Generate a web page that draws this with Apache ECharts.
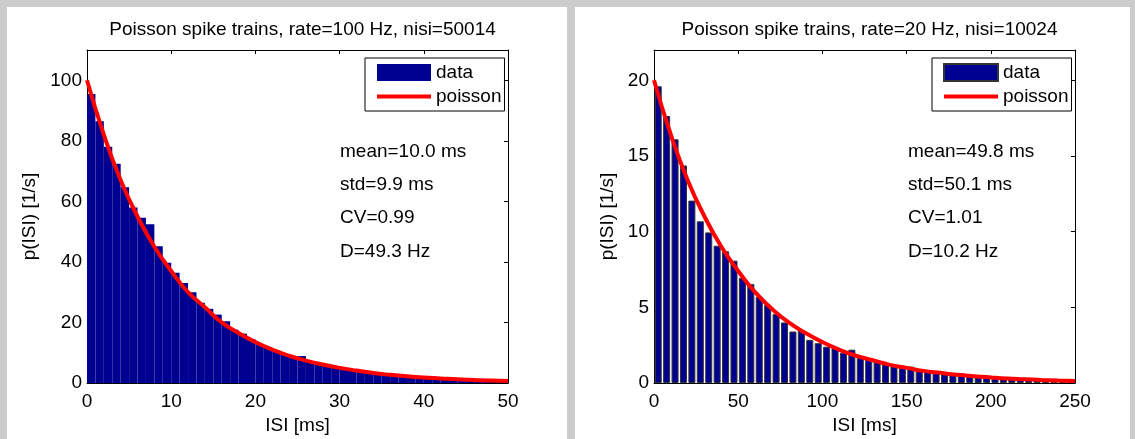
<!DOCTYPE html>
<html>
<head>
<meta charset="utf-8">
<style>
    body { margin: 0; background: #cccccc; width: 1135px; height: 439px; overflow: hidden; position: relative; }
    .panel { position: absolute; top: 7px; height: 460px; background: #fff; }
    #left { left: 7px; width: 560px; }
    #right { left: 575px; width: 555px; }
</style>
</head>
<body>
<div id="left" class="panel"></div>
<div id="right" class="panel"></div>
<script src="https://cdn.jsdelivr.net/npm/echarts@6/dist/echarts.min.js"></script>
<script>
    // ---- left panel: rate 100 Hz, 1 ms bins ----
    var leftBinWidth = 1;
    var leftCounts = [95.5, 86.5, 78, 72.4, 64.7, 58, 54.6, 52.4, 45.2, 39.7,
        36.4, 33, 30, 26.5, 24.5, 22.6, 20.4, 17.6, 16.3, 14.5,
        12.8, 11.8, 10.6, 9.6, 8.6, 8.9, 7.1, 6.4, 5.8, 5.3,
        4.7, 4.3, 3.9, 3.5, 3.2, 2.9, 2.6, 2.4, 2.1, 1.9,
        1.7, 1.6, 1.4, 1.3, 1.2, 1.1, 0.95, 0.87, 0.8, 0.7];
    var leftFitX = [0, 2, 4, 6, 8, 10, 12, 14, 16, 18, 20, 22, 24, 26, 28, 30, 32, 34, 36, 38, 40, 42, 44, 46, 48, 50];
    var leftFitY = [100, 82, 67, 55, 45, 37, 30, 25, 20, 16.5, 13.5, 11, 9, 7.4, 6.1, 5, 4.1, 3.3, 2.7, 2.2, 1.8, 1.5, 1.2, 1.0, 0.8, 0.7];
    var leftStats = ['mean=10.0 ms', 'std=9.9 ms', 'CV=0.99', 'D=49.3 Hz'];

    // ---- right panel: rate 20 Hz, 5 ms bins ----
    var rightBinWidth = 5;
    var rightCounts = [19.6, 17.64, 16.1, 14.37, 12.05, 10.68, 9.95, 9.07, 8.7, 8.08,
        6.95, 6.53, 5.7, 5.17, 4.55, 4.0, 3.4, 3.5, 2.85, 2.63,
        2.4, 2.3, 2.0, 2.2, 1.75, 1.55, 1.45, 1.25, 1.15, 1.02,
        1.08, 0.85, 0.8, 0.68, 0.62, 0.58, 0.64, 0.47, 0.42, 0.4,
        0.35, 0.3, 0.28, 0.26, 0.22, 0.2, 0.18, 0.17, 0.15, 0.13];
    var rightFitX = [0, 10, 20, 30, 40, 50, 60, 70, 80, 90, 100, 110, 120, 130, 140, 150, 160, 170, 180, 190, 200, 210, 220, 230, 240, 250];
    var rightFitY = [20, 16.4, 13.4, 11, 9, 7.4, 6, 4.9, 4, 3.3, 2.7, 2.2, 1.8, 1.5, 1.2, 1.0, 0.8, 0.67, 0.55, 0.45, 0.37, 0.3, 0.25, 0.2, 0.16, 0.13];
    var rightStats = ['mean=49.8 ms', 'std=50.1 ms', 'CV=1.01', 'D=10.2 Hz'];

    var FONT = '"Liberation Sans", Arial, sans-serif';

    function buildOption(cfg) {
        var bars = cfg.counts.map(function (v, i) {
            return [(i + 0.5) * cfg.binWidth, v];
        });
        var fit = cfg.fitX.map(function (x, i) {
            return [x, cfg.fitY[i]];
        });
        var gridW = 421, gridH = 333;
        var pxPerBin = gridW / cfg.counts.length;

        var statText = cfg.stats.map(function (s, i) {
            return {
                type: 'text',
                left: 333,
                top: 135 + i * 33.3,
                style: { text: s, font: '19px ' + FONT, fill: '#000' }
            };
        });

        var axisBase = {
            min: 0,
            axisLine: { show: true, onZero: false, lineStyle: { color: '#000', width: 1 } },
            splitLine: { show: false }
        };

        return {
            animation: false,
            textStyle: { fontFamily: FONT },
            title: {
                text: cfg.title,
                left: cfg.gridLeft + gridW / 2,
                top: 8,
                textAlign: 'center',
                textStyle: { fontSize: 19, fontWeight: 'normal', color: '#000', fontFamily: FONT }
            },
            grid: { left: cfg.gridLeft, top: 43, width: gridW, height: gridH, outerBoundsMode: 'none' },
            legend: {
                orient: 'vertical',
                left: cfg.gridLeft + 278,
                top: 51,
                padding: [5, 3, 5, 10],
                itemGap: 5,
                itemWidth: 54,
                itemHeight: 17,
                itemTextGap: 5,
                backgroundColor: '#fff',
                borderColor: '#000',
                borderWidth: 1,
                selectedMode: false,
                textStyle: { fontSize: 19, color: '#000', fontFamily: FONT },
                data: [
                    { name: 'data', icon: 'rect' },
                    { name: 'poisson', itemStyle: { opacity: 0 }, lineStyle: { width: 4 } }
                ]
            },
            xAxis: [
                Object.assign({}, axisBase, {
                    type: 'value', position: 'bottom', max: cfg.xMax, interval: cfg.xInterval,
                    name: 'ISI [ms]', nameLocation: 'middle', nameGap: 28,
                    nameTextStyle: { fontSize: 19, color: '#000' },
                    axisTick: { show: false },
                    axisLabel: { fontSize: 19, color: '#000', margin: 9 }
                }),
                Object.assign({}, axisBase, {
                    type: 'value', position: 'top', max: cfg.xMax, interval: cfg.xInterval,
                    axisTick: { show: true, inside: true, length: 4, lineStyle: { color: '#000' } },
                    axisLabel: { show: false }
                })
            ],
            yAxis: [
                Object.assign({}, axisBase, {
                    type: 'value', position: 'left', max: cfg.yMax, interval: cfg.yInterval,
                    name: 'p(ISI) [1/s]', nameLocation: 'middle', nameGap: cfg.yNameGap,
                    nameTextStyle: { fontSize: 19, color: '#000' },
                    axisTick: { show: false },
                    axisLabel: { fontSize: 19, color: '#000', margin: 5, showMaxLabel: false, padding: [6, 0, 0, 0] }
                }),
                Object.assign({}, axisBase, {
                    type: 'value', position: 'right', max: cfg.yMax, interval: cfg.yInterval,
                    axisTick: { show: true, inside: true, length: 4, lineStyle: { color: '#000' } },
                    axisLabel: { show: false }
                })
            ],
            series: [
                {
                    name: 'data',
                    type: 'bar',
                    xAxisIndex: 0,
                    yAxisIndex: 0,
                    data: bars,
                    barWidth: cfg.edged ? pxPerBin - 1.4 : pxPerBin,
                    itemStyle: {
                        color: '#000090',
                        borderColor: cfg.edged ? '#333' : '#000090',
                        borderWidth: cfg.edged ? 1 : 0
                    }
                },
                {
                    name: 'poisson',
                    type: 'line',
                    xAxisIndex: 0,
                    yAxisIndex: 0,
                    data: fit,
                    smooth: true,
                    symbol: 'none',
                    z: 5,
                    lineStyle: { color: '#ff0000', width: 4 },
                    itemStyle: { color: '#ff0000' }
                }
            ],
            graphic: statText
        };
    }

    var leftChart = echarts.init(document.getElementById('left'));
    leftChart.setOption(buildOption({
        title: 'Poisson spike trains, rate=100 Hz, nisi=50014',
        counts: leftCounts, binWidth: leftBinWidth,
        fitX: leftFitX, fitY: leftFitY, stats: leftStats,
        xMax: 50, xInterval: 10, yMax: 110, yInterval: 20,
        gridLeft: 80, yNameGap: 39, edged: false
    }));

    var rightChart = echarts.init(document.getElementById('right'));
    rightChart.setOption(buildOption({
        title: 'Poisson spike trains, rate=20 Hz, nisi=10024',
        counts: rightCounts, binWidth: rightBinWidth,
        fitX: rightFitX, fitY: rightFitY, stats: rightStats,
        xMax: 250, xInterval: 50, yMax: 22, yInterval: 5,
        gridLeft: 79, yNameGap: 27, edged: true
    }));
</script>
</body>
</html>
